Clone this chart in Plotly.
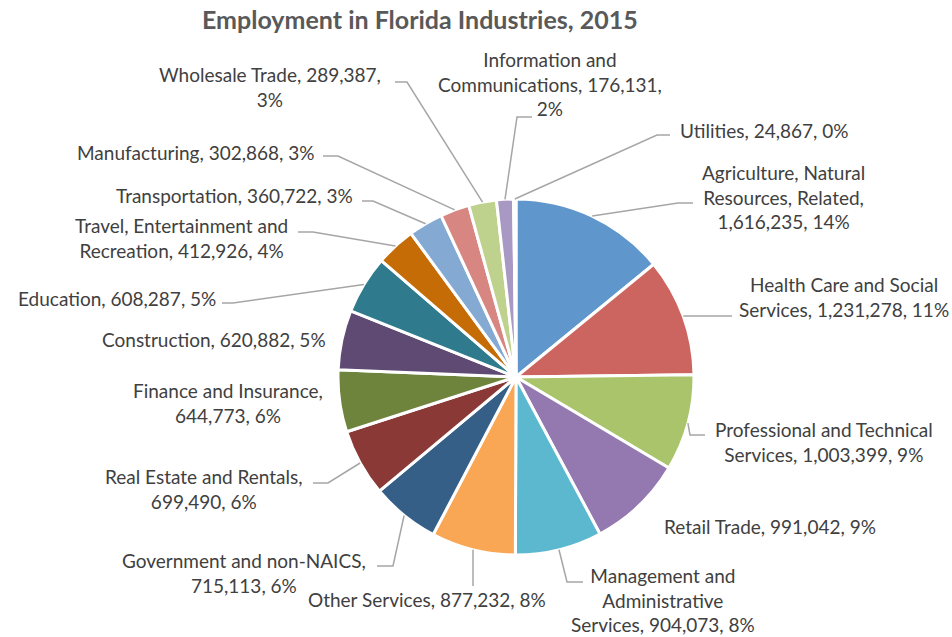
import math
import plotly.graph_objects as go

W, H = 952, 637

industries = [
    "Agriculture, Natural Resources, Related",
    "Health Care and Social Services",
    "Professional and Technical Services",
    "Retail Trade",
    "Management and Administrative Services",
    "Other Services",
    "Government and non-NAICS",
    "Real Estate and Rentals",
    "Finance and Insurance",
    "Construction",
    "Education",
    "Travel, Entertainment and Recreation",
    "Transportation",
    "Manufacturing",
    "Wholesale Trade",
    "Information and Communications",
    "Utilities",
]
employment = [1616235, 1231278, 1003399, 991042, 904073, 877232, 715113,
              699490, 644773, 620882, 608287, 412926, 360722, 302868,
              289387, 176131, 24867]

# label text lines (wrapping as in the original)
label_lines = [
    ["Agriculture, Natural", "Resources, Related,", "{v}, {p}"],
    ["Health Care and Social", "Services, {v}, {p}"],
    ["Professional and Technical", "Services, {v}, {p}"],
    ["Retail Trade, {v}, {p}"],
    ["Management and", "Administrative", "Services, {v}, {p}"],
    ["Other Services, {v}, {p}"],
    ["Government and non-NAICS,", "{v}, {p}"],
    ["Real Estate and Rentals,", "{v}, {p}"],
    ["Finance and Insurance,", "{v}, {p}"],
    ["Construction, {v}, {p}"],
    ["Education, {v}, {p}"],
    ["Travel, Entertainment and", "Recreation, {v}, {p}"],
    ["Transportation, {v}, {p}"],
    ["Manufacturing, {v}, {p}"],
    ["Wholesale Trade, {v},", "{p}"],
    ["Information and", "Communications, {v},", "{p}"],
    ["Utilities, {v}, {p}"],
]

colors = ["#5F96CB", "#CC6560", "#A9C46B", "#9479B0", "#5BB8CF", "#F9A755",
          "#355F87", "#8A3936", "#6E843C", "#5E4A73", "#2F7A8C", "#C56C06",
          "#84A9D3", "#D78682", "#BED28E", "#A898C4", "#93CDDD"]

# --- layout: pie geometry (pixels) ---
CX, CY, R = 516, 377, 178

# label placement: (x, y, xanchor) in pixels
label_pos = [
    (783, 197, "center"), (737, 297, "left"), (713, 442, "left"),
    (662, 526, "left"), (663, 600, "center"), (427, 599, "center"),
    (368, 573, "right"), (305, 489, "right"), (325, 403, "right"),
    (328, 339, "right"), (218, 298, "right"), (290, 238, "right"),
    (355, 195, "right"), (317, 152, "right"), (270, 87, "center"),
    (550, 84, "center"), (678, 130, "left"),
]
# leader line elbow and end points (None = no leader)
leaders = [
    [(678, 203), (693, 203)], [(732, 316)], [(690, 435), (705, 435)],
    None, [(567, 582), (583, 582)], [(473, 586)],
    [(393, 566), (377, 566)], [(328, 483), (313, 483)], None,
    None, [(233, 303), (222, 303)], [(313, 232), (298, 232)],
    [(373, 201), (362, 201)], [(338, 156), (323, 156)],
    [(407, 82), (395, 82)], [(517, 117), (532, 117)],
    [(657, 135), (670, 135)],
]

total = sum(employment)

fig = go.Figure()
fig.add_trace(go.Pie(
    labels=industries, values=employment, sort=False, direction="clockwise",
    rotation=0, textinfo="none", hoverinfo="label+value+percent",
    marker=dict(colors=colors, line=dict(color="white", width=3)),
    domain=dict(x=[(CX - R) / W, (CX + R) / W],
                y=[(H - CY - R) / H, (H - CY + R) / H]),
    showlegend=False,
))
# invisible pixel-coordinate axes for labels and leader lines
fig.add_trace(go.Scatter(x=[0, W], y=[0, H], mode="markers",
                         marker=dict(opacity=0), hoverinfo="skip",
                         showlegend=False))

FONT = "Lato, 'Open Sans', sans-serif"
cum = 0
annotations = []
shapes = []
for i, v in enumerate(employment):
    frac = v / total
    mid = cum + frac / 2
    cum += frac
    ang = 2 * math.pi * mid
    ex, ey = CX + R * math.sin(ang), CY - R * math.cos(ang)
    pct = f"{round(frac * 100):d}%"
    val = f"{v:,}"
    text = "<br>".join(l.format(v=val, p=pct) for l in label_lines[i])
    x, y, xa = label_pos[i]
    annotations.append(dict(
        x=x, y=y, xref="x", yref="y", text=text, showarrow=False,
        xanchor=xa, yanchor="middle", align="center",
        font=dict(family=FONT, size=19, color="#404040"),
    ))
    if leaders[i]:
        pts = [(ex, ey)] + leaders[i]
        path = "M " + " L ".join(f"{px:.1f},{py:.1f}" for px, py in pts)
        shapes.append(dict(type="path", path=path, xref="x", yref="y",
                           line=dict(color="#A6A6A6", width=1.5)))

annotations.append(dict(
    x=420, y=19, xref="x", yref="y", showarrow=False,
    text="<b>Employment in Florida Industries, 2015</b>",
    xanchor="center", yanchor="middle",
    font=dict(family=FONT, size=25, color="#595959"),
))

fig.update_layout(
    width=W, height=H, margin=dict(l=0, r=0, t=0, b=0),
    paper_bgcolor="white", plot_bgcolor="rgba(0,0,0,0)",
    xaxis=dict(range=[0, W], visible=False, fixedrange=True),
    yaxis=dict(range=[H, 0], visible=False, fixedrange=True),
    annotations=annotations, shapes=shapes,
)

fig.write_html("out.html", config={"displayModeBar": False},
               post_script="document.body.style.margin='0';")
